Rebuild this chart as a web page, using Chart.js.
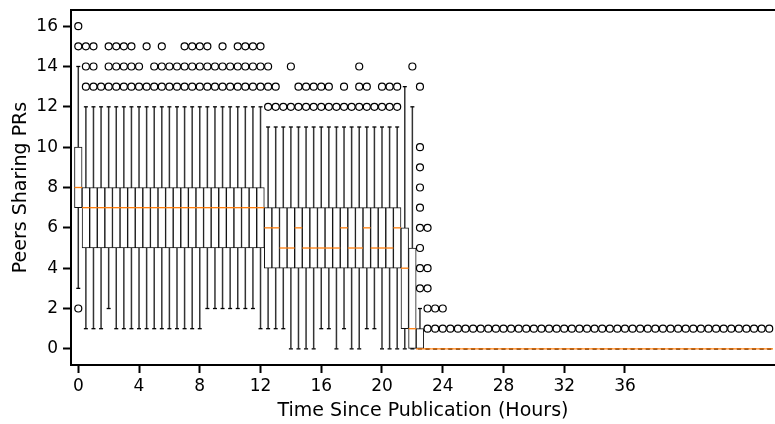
<!DOCTYPE html>
<html>
<head>
<meta charset="utf-8">
<script src="https://cdn.jsdelivr.net/npm/chart.js@4.4.1/dist/chart.umd.min.js"></script>
<style>
    html, body { margin: 0; padding: 0; background: #fff; overflow: hidden; }
    canvas { display: block; }
</style>
</head>
<body>
<canvas id="chart-peers" width="775" height="424"></canvas>
<script>
// half-hour bins
const hours = [
    0, 0.5, 1, 1.5, 2, 2.5, 3, 3.5, 4, 4.5, 5, 5.5, 6, 6.5, 7, 7.5, 8, 8.5, 9, 9.5,
    10, 10.5, 11, 11.5, 12, 12.5, 13, 13.5, 14, 14.5, 15, 15.5, 16, 16.5, 17, 17.5, 18, 18.5, 19, 19.5,
    20, 20.5, 21, 21.5, 22, 22.5, 23, 23.5, 24, 24.5, 25, 25.5, 26, 26.5, 27, 27.5, 28, 28.5, 29, 29.5,
    30, 30.5, 31, 31.5, 32, 32.5, 33, 33.5, 34, 34.5, 35, 35.5, 36, 36.5, 37, 37.5, 38, 38.5, 39, 39.5,
    40, 40.5, 41, 41.5, 42, 42.5, 43, 43.5, 44, 44.5, 45, 45.5,
];

const q1 = [
    7,
    5, 5, 5, 5, 5, 5, 5, 5, 5, 5, 5, 5, 5, 5, 5, 5, 5, 5, 5, 5, 5, 5, 5, 5,
    4, 4, 4, 4, 4, 4, 4, 4, 4, 4, 4, 4, 4, 4, 4, 4, 4, 4,
    1, 0, 0,
    0, 0, 0, 0, 0, 0, 0, 0, 0, 0, 0, 0, 0, 0, 0, 0, 0, 0, 0, 0, 0, 0, 0,
    0, 0, 0, 0, 0, 0, 0, 0, 0, 0, 0, 0, 0, 0, 0, 0, 0, 0, 0, 0, 0, 0, 0,
];

const median = [
    8,
    7, 7, 7, 7, 7, 7, 7, 7, 7, 7, 7, 7, 7, 7, 7, 7, 7, 7, 7, 7, 7, 7, 7, 7,
    6, 6, 5, 5, 6, 5, 5, 5, 5, 5, 6, 5, 5, 6, 5, 5, 5, 6,
    4, 1, 0,
    0, 0, 0, 0, 0, 0, 0, 0, 0, 0, 0, 0, 0, 0, 0, 0, 0, 0, 0, 0, 0, 0, 0,
    0, 0, 0, 0, 0, 0, 0, 0, 0, 0, 0, 0, 0, 0, 0, 0, 0, 0, 0, 0, 0, 0, 0,
];

const q3 = [
    10,
    8, 8, 8, 8, 8, 8, 8, 8, 8, 8, 8, 8, 8, 8, 8, 8, 8, 8, 8, 8, 8, 8, 8, 8,
    7, 7, 7, 7, 7, 7, 7, 7, 7, 7, 7, 7, 7, 7, 7, 7, 7, 7,
    6, 5, 1,
    0, 0, 0, 0, 0, 0, 0, 0, 0, 0, 0, 0, 0, 0, 0, 0, 0, 0, 0, 0, 0, 0, 0,
    0, 0, 0, 0, 0, 0, 0, 0, 0, 0, 0, 0, 0, 0, 0, 0, 0, 0, 0, 0, 0, 0, 0,
];

const whiskerLow = [
    3,
    1, 1, 1, 2, 1, 1, 1, 1, 1, 1, 1, 1, 1, 1, 1, 1, 2, 2, 2, 2, 2, 2, 2, 1,
    1, 1, 1, 0, 0, 0, 0, 1, 1, 0, 1, 0, 0, 1, 1, 0, 0, 0,
    0, 0, 0,
    0, 0, 0, 0, 0, 0, 0, 0, 0, 0, 0, 0, 0, 0, 0, 0, 0, 0, 0, 0, 0, 0, 0,
    0, 0, 0, 0, 0, 0, 0, 0, 0, 0, 0, 0, 0, 0, 0, 0, 0, 0, 0, 0, 0, 0, 0,
];

const whiskerHigh = [
    14,
    12, 12, 12, 12, 12, 12, 12, 12, 12, 12, 12, 12, 12, 12, 12, 12, 12, 12, 12, 12, 12, 12, 12, 12,
    11, 11, 11, 11, 11, 11, 11, 11, 11, 11, 11, 11, 11, 11, 11, 11, 11, 11,
    13, 12, 2,
    0, 0, 0, 0, 0, 0, 0, 0, 0, 0, 0, 0, 0, 0, 0, 0, 0, 0, 0, 0, 0, 0, 0,
    0, 0, 0, 0, 0, 0, 0, 0, 0, 0, 0, 0, 0, 0, 0, 0, 0, 0, 0, 0, 0, 0, 0,
];

const outliers = [
    [2, 15, 16],
    [13, 14, 15], [13, 14, 15], [13], [13, 14, 15], [13, 14, 15], [13, 14, 15], [13, 14, 15], [13, 14],
    [13, 15], [13, 14], [13, 14, 15], [13, 14], [13, 14], [13, 14, 15], [13, 14, 15], [13, 14, 15],
    [13, 14, 15], [13, 14], [13, 14, 15], [13, 14], [13, 14, 15], [13, 14, 15], [13, 14, 15], [13, 14, 15],
    [12, 13, 14], [12, 13], [12], [12, 14], [12, 13], [12, 13], [12, 13], [12, 13], [12, 13],
    [12], [12, 13], [12], [12, 13, 14], [12, 13], [12], [12, 13], [12, 13], [12, 13],
    [], [14], [3, 4, 5, 6, 7, 8, 9, 10, 13],
    [1, 2, 3, 4, 6], [1, 2], [1, 2],
    [1], [1], [1], [1], [1], [1], [1], [1], [1], [1], [1], [1], [1], [1], [1], [1], [1], [1], [1], [1],
    [1], [1], [1], [1], [1], [1], [1], [1], [1], [1], [1], [1], [1], [1], [1], [1], [1], [1], [1], [1],
    [1], [1], [1],
];

const xTicks = [0, 4, 8, 12, 16, 20, 24, 28, 32, 36];
const yTicks = [0, 2, 4, 6, 8, 10, 12, 14, 16];

const tickFont = { family: 'DejaVu Sans', size: 17 };
const titleFont = { family: 'DejaVu Sans', size: 19 };
const ink = '#000000';
const orange = '#ff7f0e';

const boxes = hours.map((h, i) => ({ x: h, y: [q1[i], q3[i]] }));
const whiskers = hours.map((h, i) => ({ x: h, y: [whiskerLow[i], whiskerHigh[i]] }));
const caps = hours.flatMap((h, i) => [
    { x: h, y: whiskerLow[i] },
    { x: h, y: whiskerHigh[i] },
]);
const medians = hours.map((h, i) => ({ x: h, y: median[i] }));
const fliers = hours.flatMap((h, i) => outliers[i].map((v) => ({ x: h, y: v })));

// top spine (matplotlib frame)
const topSpine = {
    id: 'topSpine',
    afterDraw(chart) {
        const { ctx, chartArea } = chart;
        ctx.save();
        ctx.strokeStyle = ink;
        ctx.lineWidth = 2;
        ctx.beginPath();
        ctx.moveTo(chartArea.left - 1, chartArea.top);
        ctx.lineTo(chartArea.right, chartArea.top);
        ctx.stroke();
        ctx.restore();
    },
};

const ctx = document.getElementById('chart-peers').getContext('2d');
new Chart(ctx, {
    type: 'bar',
    data: {
        datasets: [
            {
                type: 'scatter',
                data: fliers,
                order: 0,
                pointStyle: 'circle',
                pointRadius: 3.5,
                pointBorderWidth: 1.2,
                pointBorderColor: ink,
                pointBackgroundColor: 'rgba(0,0,0,0)',
            },
            {
                type: 'scatter',
                data: medians,
                order: 1,
                pointStyle: 'line',
                pointRadius: 3.8,
                pointBorderWidth: 1.3,
                pointBorderColor: orange,
            },
            {
                type: 'scatter',
                data: caps,
                order: 2,
                pointStyle: 'line',
                pointRadius: 2,
                pointBorderWidth: 1.3,
                pointBorderColor: ink,
            },
            {
                type: 'bar',
                data: boxes,
                order: 3,
                grouped: false,
                backgroundColor: '#ffffff',
                borderColor: '#111111',
                borderWidth: 1,
                borderSkipped: false,
                barPercentage: 1,
                categoryPercentage: 1,
            },
            {
                type: 'bar',
                data: whiskers,
                order: 4,
                grouped: false,
                backgroundColor: '#333333',
                borderWidth: 0,
                inflateAmount: 0,
                barThickness: 1.5,
            },
        ],
    },
    options: {
        responsive: false,
        animation: false,
        events: [],
        layout: { autoPadding: false, padding: { top: 10, right: 0, bottom: 0, left: 0 } },
        plugins: {
            legend: { display: false },
            tooltip: { enabled: false },
        },
        scales: {
            x: {
                type: 'linear',
                position: 'bottom',
                min: -0.48,
                max: 45.88,
                offset: false,
                afterFit: (scale) => {
                    scale.height = 59;
                    scale.paddingLeft = 0;
                    scale.paddingRight = 0;
                },
                afterBuildTicks: (scale) => { scale.ticks = xTicks.map((v) => ({ value: v })); },
                grid: {
                    offset: false,
                    drawOnChartArea: false,
                    drawTicks: true,
                    tickLength: 8,
                    tickWidth: 2,
                    tickColor: ink,
                },
                border: { display: true, color: ink, width: 2 },
                ticks: { font: tickFont, color: ink, padding: 3, maxRotation: 0, autoSkip: false },
                title: {
                    display: true,
                    text: 'Time Since Publication (Hours)',
                    font: titleFont,
                    color: ink,
                    padding: { top: 0, bottom: 2 },
                },
            },
            y: {
                type: 'linear',
                min: -0.8,
                max: 16.8,
                afterFit: (scale) => {
                    scale.width = 71;
                    scale.paddingTop = 0;
                    scale.paddingBottom = 0;
                },
                afterBuildTicks: (scale) => { scale.ticks = yTicks.map((v) => ({ value: v })); },
                grid: {
                    drawOnChartArea: false,
                    drawTicks: true,
                    tickLength: 8,
                    tickWidth: 2,
                    tickColor: ink,
                },
                border: { display: true, color: ink, width: 2 },
                ticks: { font: tickFont, color: ink, padding: 5 },
                title: {
                    display: true,
                    text: 'Peers Sharing PRs',
                    font: titleFont,
                    color: ink,
                    padding: { top: 10, bottom: 0 },
                },
            },
        },
    },
    plugins: [topSpine],
});
</script>
</body>
</html>
